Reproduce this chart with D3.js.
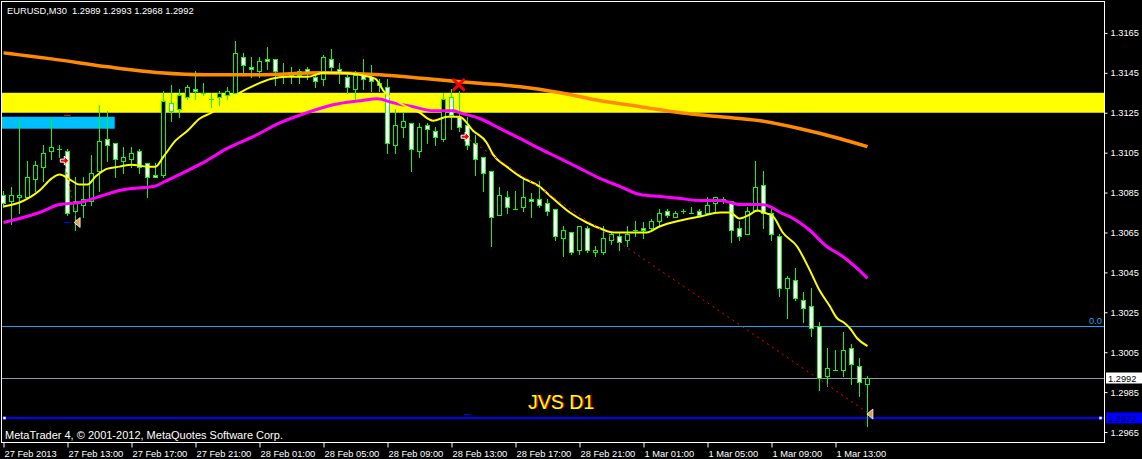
<!DOCTYPE html>
<html><head><meta charset="utf-8">
<script src="https://cdn.jsdelivr.net/npm/d3@7"></script>
<style>html,body{margin:0;padding:0;background:#000;overflow:hidden}</style>
</head><body>
<svg id="c" width="1142" height="459"></svg>
<script>
// ---------------- DATA ----------------
const titleText = "EURUSD,M30  1.2989 1.2993 1.2968 1.2992";
const copyrightText = "MetaTrader 4, \u00A9 2001-2012, MetaQuotes Software Corp.";
const opens = [1.3084,1.3081,1.3083,1.3083,1.3092,1.3098,1.3106,1.3107,1.3106,1.3076,1.3079,1.3081,1.3096,1.3112,1.3110,1.3101,1.3102,1.3106,1.3100,1.3094,
1.3094,1.3130,1.3127,1.3133,1.3137,1.3135,1.3132,1.3133,1.3134,1.3135,1.3153,1.3148,1.3146,1.3152,1.3152,1.3145,1.3145,1.3144,1.3147,1.3143,
1.3142,1.3152,1.3147,1.3143,1.3137,1.3144,1.3143,1.3140,1.3138,1.3109,1.3118,1.3120,1.3106,1.3119,1.3116,1.3112,1.3133,1.3123,1.3119,1.3110,
1.3103,1.3096,1.3074,1.3083,1.3077,1.3078,1.3082,1.3082,1.3080,1.3077,1.3062,1.3065,1.3056,1.3067,1.3055,1.3055,1.3061,1.3063,1.3061,1.3066,
1.3067,1.3067,1.3071,1.3076,1.3073,1.3076,1.3075,1.3076,1.3075,1.3080,1.3082,1.3081,1.3067,1.3064,1.3076,1.3089,1.3075,1.3063,1.3037,1.3041,
1.3031,1.3028,1.3018,1.2993,1.2996,1.2996,1.3007,1.2998,1.2989];
const highs = [1.3086,1.3088,1.3121,1.3101,1.3101,1.3109,1.3122,1.3109,1.3107,1.3093,1.3093,1.3104,1.3129,1.3126,1.3110,1.3108,1.3108,1.3107,1.3100,1.3100,
1.3136,1.3139,1.3137,1.3139,1.3146,1.3140,1.3135,1.3136,1.3138,1.3161,1.3155,1.3153,1.3153,1.3158,1.3152,1.3150,1.3148,1.3147,1.3148,1.3145,
1.3154,1.3157,1.3150,1.3145,1.3146,1.3152,1.3149,1.3142,1.3142,1.3127,1.3125,1.3120,1.3120,1.3120,1.3118,1.3135,1.3137,1.3136,1.3123,1.3114,
1.3103,1.3096,1.3088,1.3086,1.3086,1.3092,1.3085,1.3091,1.3082,1.3077,1.3068,1.3065,1.3068,1.3068,1.3058,1.3068,1.3065,1.3065,1.3068,1.3071,
1.3070,1.3072,1.3077,1.3077,1.3076,1.3077,1.3078,1.3077,1.3083,1.3083,1.3083,1.3081,1.3071,1.3078,1.3101,1.3096,1.3077,1.3064,1.3043,1.3047,
1.3035,1.3037,1.3020,1.3007,1.3006,1.3015,1.3009,1.3002,1.2993];
const lows = [1.3078,1.3069,1.3075,1.3083,1.3086,1.3091,1.3102,1.3103,1.3074,1.3066,1.3073,1.3079,1.3086,1.3101,1.3093,1.3095,1.3098,1.3095,1.3083,1.3093,
1.3093,1.3121,1.3123,1.3132,1.3132,1.3134,1.3128,1.3128,1.3132,1.3135,1.3145,1.3143,1.3143,1.3147,1.3139,1.3140,1.3140,1.3140,1.3142,1.3138,
1.3139,1.3145,1.3140,1.3135,1.3132,1.3137,1.3136,1.3136,1.3105,1.3105,1.3113,1.3096,1.3103,1.3110,1.3109,1.3111,1.3117,1.3116,1.3107,1.3094,
1.3086,1.3058,1.3074,1.3075,1.3077,1.3076,1.3073,1.3078,1.3074,1.3061,1.3053,1.3054,1.3054,1.3055,1.3053,1.3054,1.3059,1.3056,1.3058,1.3063,
1.3062,1.3066,1.3068,1.3073,1.3073,1.3075,1.3075,1.3074,1.3075,1.3075,1.3080,1.3060,1.3061,1.3064,1.3076,1.3067,1.3061,1.3033,1.3022,1.3031,
1.3020,1.3013,1.2986,1.2988,1.2996,1.2993,1.2989,1.2983,1.2968];
const closes = [1.3080,1.3084,1.3084,1.3093,1.3099,1.3105,1.3108,1.3107,1.3075,1.3081,1.3082,1.3095,1.3111,1.3109,1.3102,1.3103,1.3105,1.3098,1.3093,1.3093,
1.3131,1.3126,1.3134,1.3138,1.3136,1.3135,1.3132,1.3135,1.3136,1.3155,1.3149,1.3147,1.3151,1.3151,1.3146,1.3145,1.3144,1.3146,1.3145,1.3141,
1.3153,1.3148,1.3145,1.3138,1.3144,1.3142,1.3141,1.3139,1.3110,1.3119,1.3121,1.3107,1.3118,1.3117,1.3113,1.3132,1.3124,1.3118,1.3109,1.3102,
1.3095,1.3073,1.3084,1.3078,1.3077,1.3083,1.3081,1.3079,1.3076,1.3063,1.3066,1.3055,1.3068,1.3056,1.3056,1.3062,1.3064,1.3060,1.3064,1.3066,
1.3066,1.3071,1.3075,1.3074,1.3075,1.3076,1.3075,1.3074,1.3079,1.3083,1.3082,1.3066,1.3063,1.3076,1.3088,1.3075,1.3064,1.3037,1.3042,1.3032,
1.3027,1.3017,1.2992,1.2997,1.2996,1.3006,1.2999,1.2990,1.2992];

const xTickBars = [0,8,16,24,32,40,48,56,64,72,80,88,96,104];
const xTickLabels = ["27 Feb 2013","27 Feb 13:00","27 Feb 17:00","27 Feb 21:00","28 Feb 01:00","28 Feb 05:00","28 Feb 09:00",
  "28 Feb 13:00","28 Feb 17:00","28 Feb 21:00","1 Mar 01:00","1 Mar 05:00","1 Mar 09:00","1 Mar 13:00"];
const yTicks = [1.3165,1.3145,1.3125,1.3105,1.3085,1.3065,1.3045,1.3025,1.3005,1.2985,1.2965];

// moving averages: [bar, price]
const maFast = [[0,1.3078],[2,1.3080],[4.5,1.3086],[6,1.3092],[7,1.3094],[8.5,1.3091],[9.5,1.3089],[10.5,1.3089],[11.5,1.3093],[13,1.3097],
  [14.5,1.3098],[16,1.3099],[18,1.3098],[19,1.3098],[20,1.3103],[21.5,1.3111],[23,1.3116],[24.5,1.3122],[26,1.3125],[29.5,1.3135],
  [31.5,1.3139],[33.5,1.3142],[35.5,1.3143],[38,1.3143],[40,1.3145],[42,1.3145],[44.5,1.3144],[46.5,1.3142],[47.5,1.3136],[49.5,1.3130],
  [52,1.3125],[53.7,1.3121],[55.5,1.3123],[57,1.3123],[58.7,1.3116],[60.4,1.3110],[61.2,1.3104],[62.9,1.3098],[64.6,1.3093],[67,1.3088],
  [68.7,1.3082],[70.8,1.3075],[72.9,1.3070],[74.6,1.3067],[76.2,1.3065],[78.7,1.3065],[80.4,1.3065],[82,1.3068],[84.6,1.3071],[87.1,1.3073],
  [89.6,1.3075],[90.8,1.3075],[92,1.3072],[93.3,1.3074],[94.2,1.3076],[95,1.3075],[96.2,1.3073],[97.4,1.3065],[99.2,1.3058],[100.8,1.3046],
  [102,1.3036],[103.3,1.3028],[104.2,1.3022],[105,1.3020],[105.8,1.3017],[106.7,1.3012],[108,1.3008]];
const maMid = [[0,1.3070],[2,1.3072],[4.5,1.3075],[7,1.3079],[9.5,1.3080],[12,1.3083],[14.5,1.3086],[16,1.3087],[18.7,1.3088],[20.4,1.3091],
  [23,1.3096],[25.4,1.3101],[27.9,1.3107],[31.2,1.3113],[34.6,1.3120],[37.9,1.3125],[41.2,1.3129],[44.6,1.3131],[46.7,1.3132],[48.7,1.3130],
  [51.2,1.3128],[53.7,1.3126],[56.2,1.3126],[57,1.3125],[59.6,1.3122],[62.1,1.3117],[64.6,1.3112],[67,1.3107],[69.6,1.3102],[72.1,1.3097],
  [74.6,1.3092],[77.1,1.3088],[79.6,1.3084],[82.1,1.3083],[84.6,1.3082],[87.1,1.3081],[89.6,1.3081],[92.1,1.3079],[94.6,1.3079],[95.8,1.3078],
  [97.1,1.3075],[98.7,1.3072],[100.8,1.3066],[102.9,1.3058],[104.9,1.3053],[106.7,1.3047],[108,1.3042]];
const maSlow = [[0,1.3155],[2,1.3154],[6,1.3152],[13,1.3148],[19.6,1.3145],[25.4,1.3144],[32,1.3144],[39.6,1.3145],[47,1.3144],[53,1.3142],
  [58.7,1.3140],[64.6,1.3138],[69.6,1.3135],[74.6,1.3131],[79.6,1.3128],[84.6,1.3125],[89.6,1.3123],[94.6,1.3121],[99.6,1.3117],[104.6,1.3112],[108,1.3108]];

// drawn objects
const resistanceZone = [1.3125, 1.3135];
const blueZone = {fromBar:-2, toBar:13.9, top:1.3123, bottom:1.3117};
const fiboZeroLevel = 1.3018;
const bidPrice = 1.2992;
const blueLevel = 1.2972;
const trades = [
  {markBar:8, openBar:7.6, openPrice:1.3101, closeBar:9.2, closePrice:1.3070, sl:1.3124, tp:1.3070},
  {markBar:58, openBar:57.7, openPrice:1.3113, closeBar:108.3, closePrice:1.2974, sl:null, tp:1.2974}
];
const crossMark = {bar:56.9, price:1.3139};

// ---------------- CHART ----------------
const W = 1142, H = 459;
const PL = 1.5, PT = 1.5, PR = 1104.5, PB = 442.5;
const svg = d3.select("#c");
svg.append("rect").attr("width", W).attr("height", H).attr("fill", "#000");

const x = d3.scaleLinear().domain([0, 108]).range([3.5, 867.5]);
const y = d3.scaleLinear().domain([1.2960, 1.31805]).range([442, 2]);
const FONT = "'Liberation Sans', Arial, sans-serif";

svg.append("defs").append("clipPath").attr("id", "clip")
  .append("rect").attr("x", 2).attr("y", 2).attr("width", 1102).attr("height", 440);
const g = svg.append("g").attr("clip-path", "url(#clip)");

// background zones
g.append("rect").attr("x", 2).attr("width", 1102)
  .attr("y", y(resistanceZone[1])).attr("height", y(resistanceZone[0]) - y(resistanceZone[1]))
  .attr("fill", "#FFFF00");
g.append("rect").attr("x", x(blueZone.fromBar)).attr("width", x(blueZone.toBar) - x(blueZone.fromBar))
  .attr("y", y(blueZone.top)).attr("height", y(blueZone.bottom) - y(blueZone.top))
  .attr("fill", "#00BFFF");

// horizontal lines
const hy = v => Math.round(y(v)) + 0.5;
g.append("line").attr("x1", 2).attr("x2", 1104).attr("y1", hy(fiboZeroLevel)).attr("y2", hy(fiboZeroLevel))
  .attr("stroke", "#1AA3F0").attr("stroke-width", 1);
g.append("line").attr("x1", 2).attr("x2", 1104).attr("y1", hy(bidPrice)).attr("y2", hy(bidPrice))
  .attr("stroke", "#8C9CAC").attr("stroke-width", 1);
g.append("line").attr("x1", 2).attr("x2", 1104).attr("y1", Math.round(y(blueLevel))).attr("y2", Math.round(y(blueLevel)))
  .attr("stroke", "#0000FF").attr("stroke-width", 2);

// candles
const bars = d3.range(opens.length).map(i => ({i, o: opens[i], h: highs[i], l: lows[i], c: closes[i]}));
const GREEN = "#00FF00";
const cg = g.append("g");
bars.forEach(b => {
  const cx = x(b.i);
  cg.append("line").attr("x1", cx).attr("x2", cx)
    .attr("y1", Math.round(y(b.h))).attr("y2", Math.round(y(b.l)) + 1)
    .attr("stroke", GREEN).attr("stroke-width", 1);
  const yt = Math.round(y(Math.max(b.o, b.c))), yb = Math.round(y(Math.min(b.o, b.c)));
  if (yb - yt < 1) {
    cg.append("line").attr("x1", cx - 2.5).attr("x2", cx + 2.5).attr("y1", yt + 0.5).attr("y2", yt + 0.5)
      .attr("stroke", GREEN).attr("stroke-width", 1);
  } else {
    cg.append("rect").attr("x", cx - 2).attr("width", 4)
      .attr("y", yt + 0.5).attr("height", yb - yt)
      .attr("fill", b.c < b.o ? "#FFFFFF" : "#000000")
      .attr("stroke", GREEN).attr("stroke-width", 1);
  }
});

// moving averages
const line = d3.line().x(d => x(d[0])).y(d => y(d[1])).curve(d3.curveMonotoneX);
g.append("path").datum(maSlow).attr("d", line).attr("fill", "none").attr("stroke", "#FF8C00").attr("stroke-width", 3.5);
g.append("path").datum(maMid).attr("d", line).attr("fill", "none").attr("stroke", "#FF00FF").attr("stroke-width", 3);
g.append("path").datum(maFast).attr("d", line).attr("fill", "none").attr("stroke", "#FFFF00").attr("stroke-width", 2);

// trades: dotted line, sl/tp marks, arrows, close triangles
trades.forEach(t => {
  g.append("line").attr("x1", x(t.openBar)).attr("y1", y(t.openPrice)).attr("x2", x(t.closeBar)).attr("y2", y(t.closePrice))
    .attr("stroke", "#FF0000").attr("stroke-width", 1).attr("stroke-dasharray", "2,4");
  const mxb = x(t.markBar);
  if (t.sl != null) g.append("line").attr("x1", mxb - 3.5).attr("x2", mxb + 3.5)
    .attr("y1", hy(t.sl)).attr("y2", hy(t.sl)).attr("stroke", "#FF0000").attr("stroke-width", 1);
  g.append("line").attr("x1", mxb - 3.5).attr("x2", mxb + 3.5)
    .attr("y1", hy(t.tp)).attr("y2", hy(t.tp)).attr("stroke", "#0000FF").attr("stroke-width", 1);
  const ax = x(t.openBar), ay = y(t.openPrice);
  g.append("path").attr("transform", `translate(${ax},${ay})`)
    .attr("d", "M-4,-1.5 L0,-1.5 L0,-4.5 L4.5,0 L0,4.5 L0,1.5 L-4,1.5 Z")
    .attr("fill", "#FF0000").attr("stroke", "#FFFFFF").attr("stroke-width", 1);
  const tx = x(t.closeBar), ty = y(t.closePrice);
  g.append("path").attr("transform", `translate(${tx},${ty})`)
    .attr("d", "M-3,0 L3,-5 L3,5 Z").attr("fill", "#D9A050").attr("stroke", "#FFFFFF").attr("stroke-width", 0.8);
});
// blue level handles
g.append("rect").attr("x", 3).attr("y", Math.round(y(blueLevel)) - 1.5).attr("width", 3).attr("height", 3).attr("fill", "#FFFFFF").attr("stroke", "#0000FF").attr("stroke-width", 0.5);
g.append("rect").attr("x", 1099).attr("y", Math.round(y(blueLevel)) - 1.5).attr("width", 3).attr("height", 3).attr("fill", "#FFFFFF").attr("stroke", "#0000FF").attr("stroke-width", 0.5);

// red X marker
const mx = x(crossMark.bar), my = y(crossMark.price);
g.append("path").attr("d", `M${mx-5},${my-5} L${mx+5},${my+5} M${mx+5},${my-5} L${mx-5},${my+5}`)
  .attr("stroke", "#FF0000").attr("stroke-width", 3).attr("stroke-linecap", "round");

// fibo label
svg.append("text").attr("x", 1102).attr("y", hy(fiboZeroLevel) - 2.5).attr("text-anchor", "end")
  .attr("fill", "#1AA3F0").style("font", `9.3px ${FONT}`).text("0.0");

// JVS D1 label
svg.append("text").attr("x", 529).attr("y", 409).attr("fill", "#FF0000").style("font", "19.5px 'Liberation Sans', Arial").text("JVS D1");
svg.append("text").attr("x", 528).attr("y", 409).attr("fill", "#FFFF00").style("font", "19.5px 'Liberation Sans', Arial").text("JVS D1");

// frame
svg.append("rect").attr("x", PL).attr("y", PT).attr("width", PR - PL).attr("height", PB - PT)
  .attr("fill", "none").attr("stroke", "#FFFFFF").attr("stroke-width", 1);

// right axis
const ya = svg.append("g").attr("transform", `translate(${PR},0)`)
  .call(d3.axisRight(y).tickValues(yTicks).tickSize(3).tickPadding(3).tickFormat(d3.format(".4f")));
ya.select(".domain").remove();
ya.selectAll("line").attr("stroke", "#FFFFFF");
ya.selectAll("text").attr("fill", "#FFFFFF").style("font", `9.3px ${FONT}`);

// price label boxes
[[bidPrice, "#FFFFFF", "#000000"], [blueLevel, "#0000FF", "#000060"]].forEach(([p, bg, fg]) => {
  const cy = Math.round(y(p));
  svg.append("rect").attr("x", 1106).attr("y", cy - 5.5).attr("width", 36).attr("height", 11).attr("fill", bg);
  svg.append("text").attr("x", 1108).attr("y", cy + 3.5).attr("fill", fg).style("font", `9.3px ${FONT}`).text(d3.format(".4f")(p));
});

// bottom axis
const xa = svg.append("g").attr("transform", `translate(0,${PB})`)
  .call(d3.axisBottom(x).tickValues(xTickBars).tickSize(5).tickFormat((d, i) => xTickLabels[i]));
xa.select(".domain").remove();
xa.selectAll("line").attr("stroke", "#FFFFFF");
xa.selectAll("text").attr("fill", "#FFFFFF").attr("text-anchor", "start").attr("x", 0.5).attr("y", 8)
  .style("font", `9.3px ${FONT}`);

// title & copyright
svg.append("text").attr("x", 7).attr("y", 14).attr("fill", "#FFFFFF").attr("xml:space", "preserve")
  .style("white-space", "pre").style("font", `9.3px ${FONT}`).text(titleText);
svg.append("text").attr("x", 5).attr("y", 439).attr("fill", "#FFFFFF").style("font", `11px ${FONT}`).text(copyrightText);
</script>
</body></html>
